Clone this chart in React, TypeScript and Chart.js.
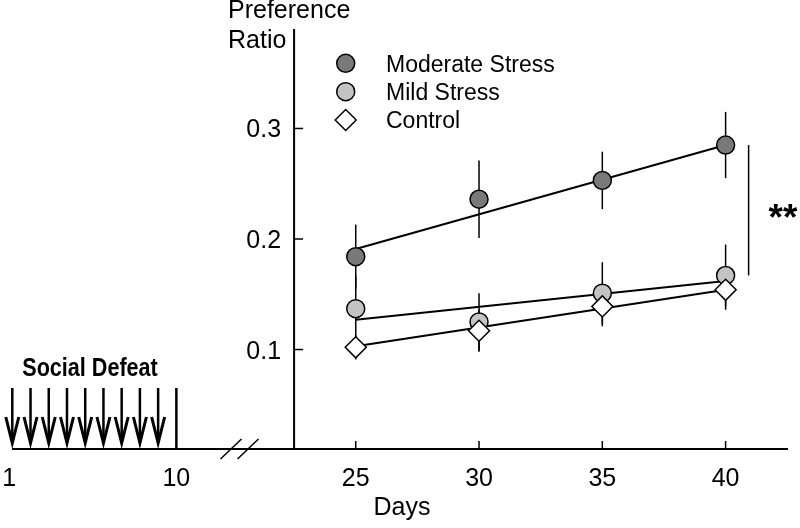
import React, { useEffect, useRef } from 'react';
import { Chart, registerables } from 'chart.js';

Chart.register(...registerables);

// ---- data ----
const days = [25, 30, 35, 40];
const xTickLabels = ['25', '30', '35', '40'];
const defeatTickDays = [1, 10];
const defeatTickLabels = ['1', '10'];
const defeatArrowDays = [1, 2, 3, 4, 5, 6, 7, 8, 9];
const defeatEndDay = 10;
const yTicks = [0.1, 0.2, 0.3];
const yTickLabels = ['0.1', '0.2', '0.3'];

const moderate = [0.184, 0.236, 0.253, 0.285];
const moderateErr = [0.029, 0.035, 0.026, 0.03];
const mild = [0.137, 0.125, 0.151, 0.167];
const mildErr = [0.03, 0.026, 0.028, 0.028];
const control = [0.102, 0.117, 0.139, 0.154];
const controlErr = [0.011, 0.019, 0.018, 0.018];

const fitDays = [25, 40];
const moderateFit = [0.191, 0.285];
const mildFit = [0.127, 0.162];
const controlFit = [0.103, 0.154];

const seriesNames = ['Moderate Stress', 'Mild Stress', 'Control'];
const seriesColors = ['#797979', '#c3c3c3', '#ffffff'];
const significance = '**';

const FONT = '"Liberation Sans", Arial, Helvetica, sans-serif';
const Y_AXIS_DAY = 22.5;

const pts = (xs: number[], ys: number[]) => xs.map((x, i) => ({ x, y: ys[i] }));

const overlay = {
  id: 'overlay',
  beforeDatasetsDraw(chart: any) {
    const { ctx, chartArea, scales } = chart;
    const x = scales.x, xl = scales.xL, y = scales.y;
    const bottom = chartArea.bottom;
    const axisX = x.getPixelForValue(Y_AXIS_DAY);
    ctx.save();
    ctx.strokeStyle = '#000';
    ctx.fillStyle = '#000';
    ctx.lineCap = 'butt';
    // x axis line
    ctx.lineWidth = 2;
    ctx.beginPath();
    ctx.moveTo(chartArea.left, bottom);
    ctx.lineTo(chartArea.right, bottom);
    ctx.stroke();
    // y axis line
    ctx.beginPath();
    ctx.moveTo(axisX, chartArea.top);
    ctx.lineTo(axisX, bottom);
    ctx.stroke();
    // y ticks
    ctx.lineWidth = 1.5;
    yTicks.forEach((v) => {
      const py = y.getPixelForValue(v);
      ctx.beginPath();
      ctx.moveTo(axisX, py);
      ctx.lineTo(axisX + 9, py);
      ctx.stroke();
    });
    // x ticks
    days.forEach((d) => {
      const px = x.getPixelForValue(d);
      ctx.beginPath();
      ctx.moveTo(px, bottom);
      ctx.lineTo(px, bottom - 8);
      ctx.stroke();
    });
    // axis break
    ctx.lineWidth = 1.5;
    [231, 248].forEach((cx) => {
      ctx.beginPath();
      ctx.moveTo(cx - 10.5, bottom + 10);
      ctx.lineTo(cx + 10.5, bottom - 10);
      ctx.stroke();
    });
    // social defeat arrows
    defeatArrowDays.forEach((d) => {
      const px = xl.getPixelForValue(d);
      ctx.lineWidth = 2.5;
      ctx.beginPath();
      ctx.moveTo(px, bottom - 61);
      ctx.lineTo(px, bottom - 8);
      ctx.stroke();
      ctx.lineWidth = 3;
      ctx.lineJoin = 'miter';
      ctx.beginPath();
      ctx.moveTo(px - 6.5, bottom - 32);
      ctx.lineTo(px, bottom - 6);
      ctx.lineTo(px + 6.5, bottom - 32);
      ctx.stroke();
      ctx.beginPath();
      ctx.moveTo(px - 2.5, bottom - 14);
      ctx.lineTo(px, bottom - 2);
      ctx.lineTo(px + 2.5, bottom - 14);
      ctx.closePath();
      ctx.fill();
    });
    ctx.lineWidth = 2.5;
    const endPx = xl.getPixelForValue(defeatEndDay);
    ctx.beginPath();
    ctx.moveTo(endPx, bottom - 61);
    ctx.lineTo(endPx, bottom);
    ctx.stroke();

    // error bars
    ctx.lineWidth = 1.5;
    const errs: [number[], number[]][] = [
      [moderate, moderateErr],
      [mild, mildErr],
      [control, controlErr],
    ];
    errs.forEach(([vals, e]) => {
      days.forEach((d, i) => {
        const px = x.getPixelForValue(d);
        ctx.beginPath();
        ctx.moveTo(px, y.getPixelForValue(vals[i] + e[i]));
        ctx.lineTo(px, y.getPixelForValue(vals[i] - e[i]));
        ctx.stroke();
      });
    });
    // significance bar
    const sx = x.getPixelForValue(40) + 23;
    ctx.beginPath();
    ctx.moveTo(sx, y.getPixelForValue(moderate[3]));
    ctx.lineTo(sx, y.getPixelForValue(mild[3]));
    ctx.stroke();
    ctx.restore();
  },
  afterDatasetsDraw(chart: any) {
    const { ctx, chartArea, scales } = chart;
    const x = scales.x, xl = scales.xL, y = scales.y;
    const bottom = chartArea.bottom;
    const axisX = x.getPixelForValue(Y_AXIS_DAY);
    ctx.save();
    ctx.fillStyle = '#000';
    ctx.textBaseline = 'alphabetic';
    // y tick labels
    ctx.font = '25px ' + FONT;
    ctx.textAlign = 'right';
    yTicks.forEach((v, i) => {
      ctx.fillText(yTickLabels[i], axisX - 13, y.getPixelForValue(v) + 9);
    });
    // x tick labels
    ctx.textAlign = 'center';
    days.forEach((d, i) => {
      ctx.fillText(xTickLabels[i], x.getPixelForValue(d), bottom + 37);
    });
    defeatTickDays.forEach((d, i) => {
      const off = defeatTickLabels[i].length === 1 ? -3 : 0;
      ctx.fillText(defeatTickLabels[i], xl.getPixelForValue(d) + off, bottom + 37);
    });
    // axis titles
    ctx.fillText('Days', 402, 515);
    ctx.textAlign = 'left';
    ctx.fillText('Preference', 228, 18);
    ctx.fillText('Ratio', 228, 48);
    // Social Defeat
    ctx.save();
    ctx.translate(90, 376);
    ctx.scale(0.83, 1);
    ctx.font = 'bold 26px ' + FONT;
    ctx.textAlign = 'center';
    ctx.fillText('Social Defeat', 0, 0);
    ctx.restore();
    // significance stars
    ctx.font = 'bold 37px ' + FONT;
    ctx.textAlign = 'center';
    ctx.fillText(significance, 783, 230);

    // legend
    const lx = 345.7;
    const ly = [63.3, 91.7, 120];
    ctx.lineWidth = 1.5;
    ctx.strokeStyle = '#000';
    seriesNames.forEach((name, i) => {
      ctx.fillStyle = seriesColors[i];
      ctx.beginPath();
      if (i < 2) {
        ctx.arc(lx, ly[i], 9, 0, Math.PI * 2);
      } else {
        ctx.moveTo(lx - 10.5, ly[i]);
        ctx.lineTo(lx, ly[i] - 10.5);
        ctx.lineTo(lx + 10.5, ly[i]);
        ctx.lineTo(lx, ly[i] + 10.5);
        ctx.closePath();
      }
      ctx.fill();
      ctx.stroke();
      ctx.fillStyle = '#000';
      ctx.font = '23px ' + FONT;
      ctx.textAlign = 'left';
      ctx.fillText(name, 386, ly[i] + 8.3);
    });
    ctx.restore();
  },
};

export default function App() {
  const ref = useRef<HTMLCanvasElement | null>(null);
  useEffect(() => {
    if (!ref.current) return;
    const fitStyle = {
      showLine: true,
      borderColor: '#000',
      borderWidth: 2,
      pointRadius: 0,
      fill: false,
      order: 5,
    };
    const chart = new Chart(ref.current, {
      type: 'scatter',
      data: {
        datasets: [
          { ...fitStyle, label: 'fitM', data: pts(fitDays, moderateFit) },
          { ...fitStyle, label: 'fitMi', data: pts(fitDays, mildFit) },
          { ...fitStyle, label: 'fitC', data: pts(fitDays, controlFit) },
          {
            label: seriesNames[0], data: pts(days, moderate), order: 2,
            pointStyle: 'circle', pointRadius: 9, pointBackgroundColor: seriesColors[0],
            pointBorderColor: '#000', pointBorderWidth: 1.5,
          },
          {
            label: seriesNames[1], data: pts(days, mild), order: 1,
            pointStyle: 'circle', pointRadius: 9, pointBackgroundColor: seriesColors[1],
            pointBorderColor: '#000', pointBorderWidth: 1.5,
          },
          {
            label: seriesNames[2], data: pts(days, control), order: 0,
            pointStyle: 'rectRot', pointRadius: 10.5, pointBackgroundColor: seriesColors[2],
            pointBorderColor: '#000', pointBorderWidth: 1.5,
          },
        ],
      },
      options: {
        animation: false,
        responsive: false,
        devicePixelRatio: 1,
        layout: { padding: { left: 7, right: 0, top: 29, bottom: 79 } },
        plugins: { legend: { display: false }, tooltip: { enabled: false } },
        scales: {
          x: { type: 'linear', min: 11.06, max: 42.53, display: false },
          xL: { type: 'linear', axis: 'x', min: 0.984, max: 43.55, display: false },
          y: { type: 'linear', min: 0.01, max: 0.39, display: false },
        },
      },
      plugins: [overlay],
    } as any);
    return () => chart.destroy();
  }, []);
  return (
    <div style={{ position: 'absolute', left: 0, top: 0, width: 800, height: 528, background: '#fff' }}>
      <canvas ref={ref} width={800} height={528} style={{ display: 'block' }} />
    </div>
  );
}
